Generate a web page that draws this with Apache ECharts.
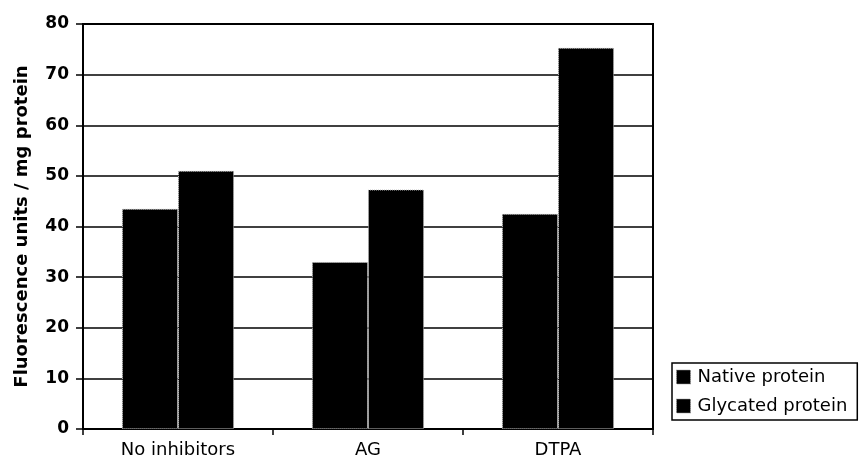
<!DOCTYPE html>
<html><head><meta charset="utf-8">
<script src="https://cdn.jsdelivr.net/npm/echarts@6/dist/echarts.min.js"></script>
<style>html,body{margin:0;padding:0;background:#fff}#c{width:861px;height:469px}</style>
</head><body><div id="c"></div>
<script>
var categories = ["No inhibitors", "AG", "DTPA"];
var nativeProtein = [43.5, 33, 42.5];
var glycatedProtein = [51, 47.3, 75.3];
var seriesNames = ["Native protein", "Glycated protein"];
var yTitle = "Fluorescence units / mg protein";

var chart = echarts.init(document.getElementById('c'), null, {renderer: 'canvas'});
var font = "'DejaVu Sans', 'Liberation Sans', Arial, sans-serif";
var barStyle = {color: '#000', borderColor: '#bbb', borderWidth: 1, borderType: 'dotted'};
chart.setOption({
  animation: false,
  backgroundColor: '#fff',
  textStyle: {fontFamily: font},
  grid: {left: 83, right: 208, top: 24, bottom: 40, show: true, borderColor: '#000', borderWidth: 2, backgroundColor: 'transparent'},
  legend: {
    orient: 'vertical', left: 672, top: 363,
    data: seriesNames,
    itemWidth: 14, itemHeight: 14, itemGap: 11,
    padding: [5, 10, 5, 4],
    borderColor: '#000', borderWidth: 1.5,
    icon: 'rect',
    textStyle: {fontFamily: font, fontSize: 18, color: '#000', padding: [0, 0, 0, 2]},
    itemStyle: {borderColor: '#999', borderWidth: 1, borderType: 'dotted'}
  },
  xAxis: {
    type: 'category', data: categories,
    axisLine: {lineStyle: {color: '#000', width: 2}},
    axisTick: {show: true, length: 6, lineStyle: {color: '#000', width: 1.5}},
    axisLabel: {fontFamily: font, fontSize: 18, color: '#000', margin: 12}
  },
  yAxis: {
    type: 'value', min: 0, max: 80, interval: 10,
    name: yTitle, nameLocation: 'middle', nameGap: 52,
    nameTextStyle: {fontFamily: font, fontSize: 18, fontWeight: 'bold', color: '#000'},
    axisLine: {show: true, lineStyle: {color: '#000', width: 2}},
    axisTick: {show: true, length: 7, lineStyle: {color: '#000', width: 1.5}},
    axisLabel: {fontFamily: font, fontSize: 17, fontWeight: 'bold', color: '#000', margin: 14},
    splitLine: {lineStyle: {color: '#000', width: 1.5}}
  },
  series: [
    {name: seriesNames[0], type: 'bar', data: nativeProtein, barGap: '0%', barCategoryGap: '41%', itemStyle: barStyle},
    {name: seriesNames[1], type: 'bar', data: glycatedProtein, itemStyle: barStyle}
  ]
});
</script></body></html>
